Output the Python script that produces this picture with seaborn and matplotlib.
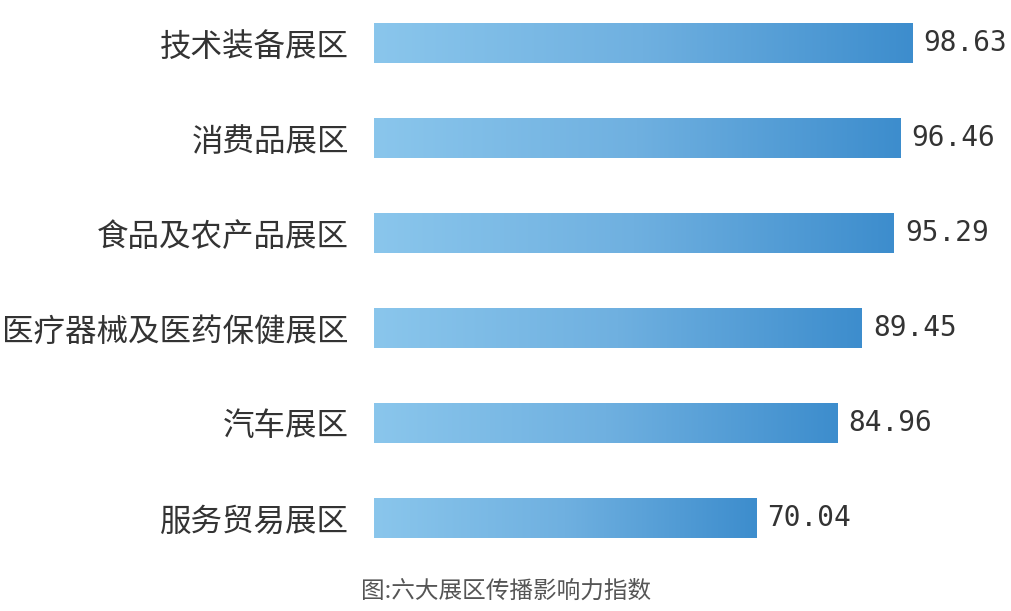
import numpy as np
import pandas as pd
import matplotlib
matplotlib.use("Agg")
import matplotlib.pyplot as plt
from matplotlib.colors import LinearSegmentedColormap
import seaborn as sns

# data
zones = ["技术装备展区", "消费品展区", "食品及农产品展区", "医疗器械及医药保健展区", "汽车展区", "服务贸易展区"]
scores = [98.63, 96.46, 95.29, 89.45, 84.96, 70.04]
caption = "图:六大展区传播影响力指数"

df = pd.DataFrame({"zone": zones, "score": scores})

sns.set_theme(style="white")
plt.rcParams["font.family"] = ["Noto Sans CJK SC", "DejaVu Sans"]

fig = plt.figure(figsize=(10.12, 6.11), dpi=100)
ax = fig.add_axes([374 / 1012, 51 / 611, 638 / 1012, 560 / 611])

sns.barplot(data=df, x="score", y="zone", orient="h", width=0.42,
            color="#7fbde8", ax=ax)

# gradient fill, light to dark along each bar
cmap = LinearSegmentedColormap.from_list("blues", ["#8ac6ec", "#6fb0e0", "#3d8dcd"])
grad = np.linspace(0, 1, 256).reshape(1, -1)
for bar in ax.patches:
    x0, y0 = bar.get_x(), bar.get_y()
    w, h = bar.get_width(), bar.get_height()
    bar.set_facecolor("none")
    bar.set_edgecolor("none")
    im = ax.imshow(grad, cmap=cmap, aspect="auto", extent=[x0, x0 + w, y0 + h, y0],
                   zorder=2)
    im.set_clip_path(bar)

# value labels
for i, v in enumerate(scores):
    ax.annotate(f"{v:.2f}", xy=(v, i), xytext=(8, 0), textcoords="offset points",
                va="center", ha="left", fontsize=20, color="#333333",
                family="DejaVu Sans Mono")

ax.set_xlim(0, 116.96)
ax.set_ylim(-43 / 95 + 560 / 95, -43 / 95)
ax.set_xlabel("")
ax.set_ylabel("")
ax.set_xticks([])
ax.tick_params(axis="y", length=0, pad=18, labelsize=22.7, labelcolor="#333333")
for s in ax.spines.values():
    s.set_visible(False)

fig.text(506 / 1012, 1 - 591 / 611, caption, ha="center", va="center",
         fontsize=17, color="#555555")

fig.savefig("out.png", dpi=100)
